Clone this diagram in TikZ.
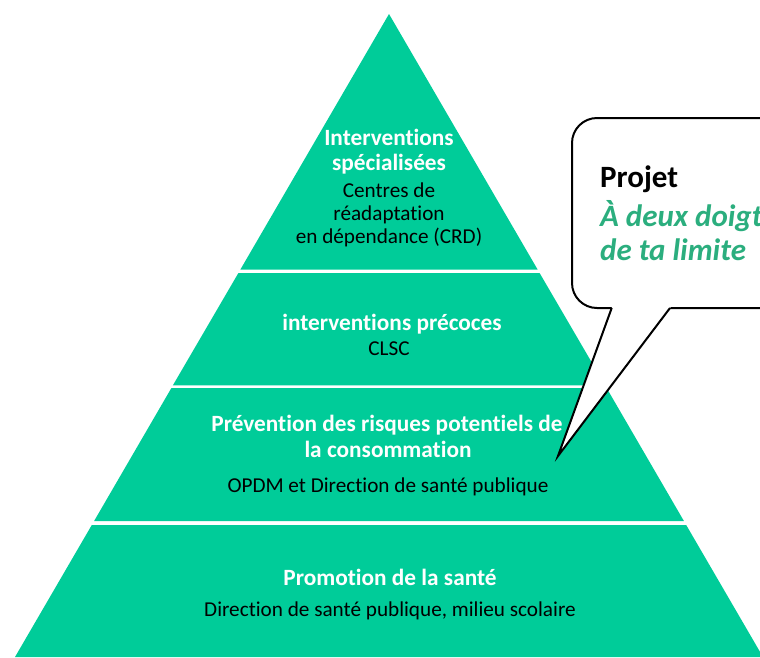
\documentclass[tikz,border=0pt]{standalone}
\usepackage{fontspec}
\setmainfont[Ligatures=CommonOff]{Carlito}
\definecolor{pyr}{HTML}{00CC99}
\definecolor{callg}{HTML}{2BAE7E}
\begin{document}
\begin{tikzpicture}[x=1pt,y=-1pt,
  head/.style={text=white,font=\fontsize{23.3}{27}\selectfont\bfseries,anchor=base,inner sep=0},
  sub/.style={text=black,font=\fontsize{21.2}{25}\selectfont,anchor=base,inner sep=0},
  tier/.style={fill=pyr},
  calltext/.style={anchor=base west,inner sep=0,font=\fontsize{31}{35}\selectfont\bfseries},
  callline/.style={line width=2pt,draw=black}]
\useasboundingbox (0,0) rectangle (760,657);
\clip (0,0) rectangle (760,657);
% pyramid tiers
\fill[tier] (389,14) -- (537.6,269.5) -- (240.4,269.5) -- cycle;
\fill[tier] (238.4,273) -- (539.6,273) -- (605.1,385.3) -- (172.9,385.3) -- cycle;
\fill[tier] (171.4,388) -- (606.6,388) -- (683.9,521) -- (94.1,521) -- cycle;
\fill[tier] (91.8,525) -- (686.2,525) -- (763,657) -- (15,657) -- cycle;
% tier texts
\node[head] (t1a) at (389,145) {Interventions};
\node[head] (t1b) at (389,170.5) {spécialisées};
\node[sub] (t1c) at (389,197) {Centres de};
\node[sub] (t1d) at (389,220) {réadaptation};
\node[sub] (t1e) at (389,243.5) {en dépendance (CRD)};
\node[head] (t2a) at (392,330) {interventions précoces};
\node[sub] (t2b) at (389,355) {CLSC};
\node[head] (t3a) at (387,431.5) {Prévention des risques potentiels de};
\node[head] (t3b) at (388,457) {la consommation};
\node[sub] (t3c) at (388,492) {OPDM et Direction de santé publique};
\node[head] (t4a) at (390,585) {Promotion de la santé};
\node[sub] (t4b) at (390,616.5) {Direction de santé publique, milieu scolaire};
% callout
\coordinate (tl) at (611.7,308);
\coordinate (tip) at (558,456);
\coordinate (tr) at (670,308);
\draw[callline, rounded corners=25pt, fill=white] (572,118) rectangle (830,308);
\fill[white] (612.8,305) -- (tip) -- (672.3,305) -- cycle;
\draw[callline, line join=miter] (tl) -- (tip) -- (tr);
\node[calltext] (proj) at (600,187) {Projet};
\node[calltext, text=callg, font=\fontsize{31}{35}\selectfont\bfseries\itshape] (slog1) at (600,226) {À deux doigts};
\node[calltext, text=callg, font=\fontsize{31}{35}\selectfont\bfseries\itshape] (slog2) at (600,260) {de ta limite};
\end{tikzpicture}
\end{document}
